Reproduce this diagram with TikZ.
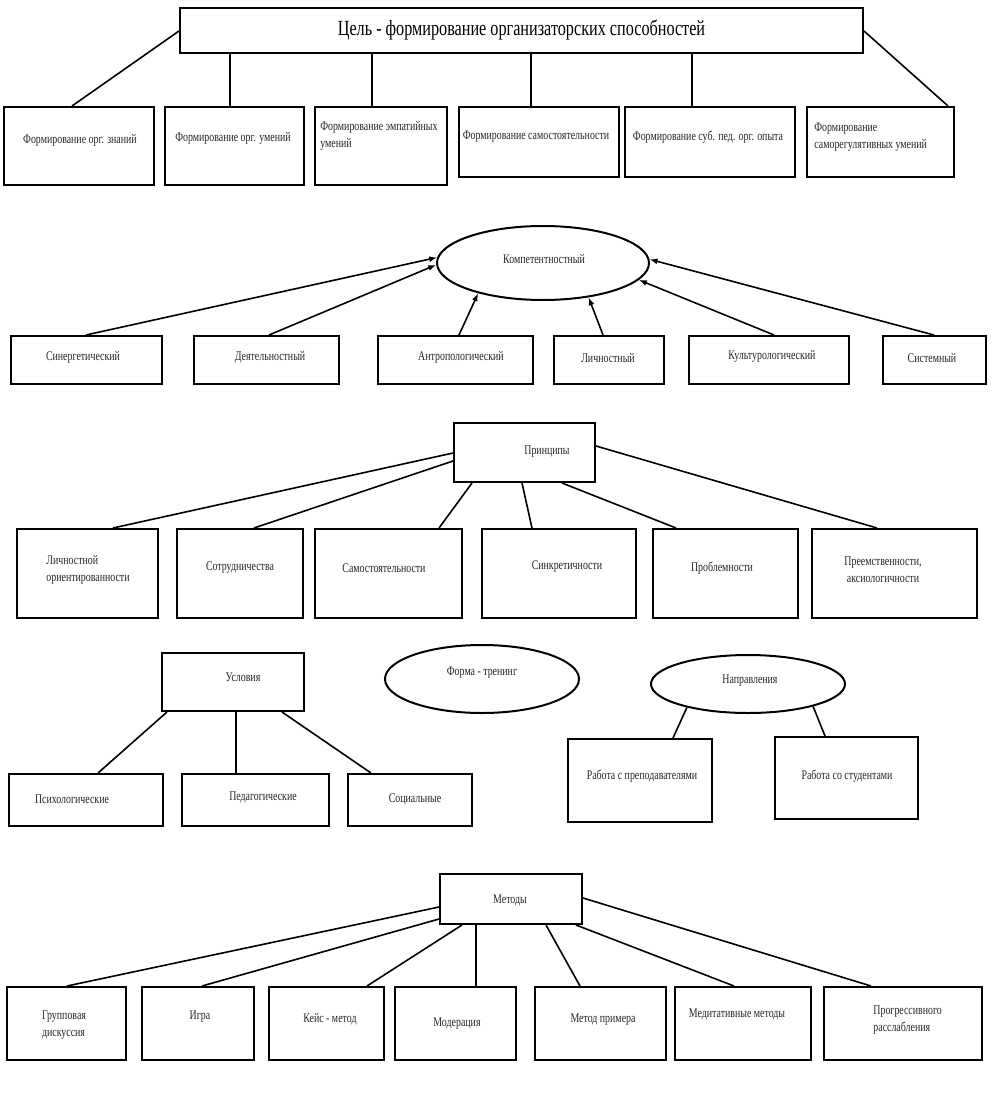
\documentclass[tikz,border=0pt]{standalone}
\usepackage{fontspec}
\setmainfont{Liberation Serif}
\newfontfamily\dfont[FakeStretch=0.75]{Liberation Serif}
\usetikzlibrary{calc,arrows.meta,shapes.geometric}
\newcommand\mkbox[5]{%
  \pgfmathsetmacro\mybw{(#4-#2)*0.5}%
  \pgfmathsetmacro\mybh{(#5-#3)*0.5}%
  \node[box, minimum width=\mybw pt, minimum height=\mybh pt] (#1) at ({(#2+#4)/2},{(#3+#5)/2}) {};}
\begin{document}
\begin{tikzpicture}[x=0.5pt,y=-0.5pt,
  box/.style={draw, line width=1pt, rectangle, inner sep=0pt},
  oval/.style={draw, line width=1pt, ellipse, inner sep=0pt},
  txt/.style={font=\dfont\fontsize{6.6}{8.5}\selectfont, text=black!85, inner sep=0pt, align=center},
  link/.style={line width=0.8pt},
  arr/.style={line width=0.8pt, -{Latex[length=4pt,width=3pt]}}]
\fill[white] (0,0) rectangle (1003,1097);
\useasboundingbox (0,0) rectangle (1003,1097);

% ---------- Section 1 ----------
\node[box, minimum width=341.5pt, minimum height=22.5pt,
      font=\dfont\fontsize{10.8}{13}\selectfont] (t) at (521.5,30.5)
      {Цель - формирование организаторских способностей};
\mkbox{b1}{4}{107}{154}{185}
\mkbox{b2}{165}{107}{304}{185}
\mkbox{b3}{315}{107}{447}{185}
\mkbox{b4}{459}{107}{619}{177}
\mkbox{b5}{625}{107}{795}{177}
\mkbox{b6}{807}{107}{954}{177}
\node[txt] (tb1) at (80,140) {Формирование орг. знаний};
\node[txt] (tb2) at (233,138) {Формирование орг. умений};
\node[txt, align=left, anchor=west] (tb3) at (320,136) {Формирование эмпатийных\\умений};
\node[txt] (tb4) at (536,137) {Формирование самостоятельности};
\node[txt] (tb5) at (708,137) {Формирование суб. пед. орг. опыта};
\node[txt, align=left, anchor=west] (tb6) at (814,137.5) {Формирование\\саморегулятивных умений};

\draw[link] ($(b1.north west)+(69,0)$) -- ($(t.north west)+(0,24)$);
\coordinate (p2) at ($(b2.north west)+(66,0)$);
\draw[link] (p2) -- (p2 |- t.south);
\coordinate (p3) at ($(b3.north west)+(58,0)$);
\draw[link] (p3) -- (p3 |- t.south);
\coordinate (p4) at ($(b4.north west)+(73,0)$);
\draw[link] (p4) -- (p4 |- t.south);
\coordinate (p5) at ($(b5.north west)+(68,0)$);
\draw[link] (p5) -- (p5 |- t.south);
\draw[link] ($(b6.north east)+(-7,0)$) -- ($(t.north east)+(0,24)$);

% ---------- Section 2 ----------
\node[oval, minimum width=106pt, minimum height=37pt] (e1) at (543,263) {};
\node[txt] (te1) at (544,259) {Компетентностный};
\mkbox{a1}{11}{336}{162}{384}
\mkbox{a2}{194}{336}{339}{384}
\mkbox{a3}{378}{336}{533}{384}
\mkbox{a4}{554}{336}{664}{384}
\mkbox{a5}{689}{336}{849}{384}
\mkbox{a6}{883}{336}{986}{384}
\node[txt] (ta1) at (83,357) {Синергетический};
\node[txt] (ta2) at (270,357) {Деятельностный};
\node[txt] (ta3) at (461,357) {Антропологический};
\node[txt] (ta4) at (608,358) {Личностный};
\node[txt] (ta5) at (772,356) {Культурологический};
\node[txt] (ta6) at (932,358) {Системный};
\draw[arr] ($(a1.north west)+(76,0)$) -- (e1.177);
\draw[arr] ($(a2.north west)+(76,0)$) -- (e1.181);
\draw[arr] ($(a3.north west)+(82,0)$) -- (e1.205);
\draw[arr] ($(a4.north west)+(50,0)$) -- (e1.323);
\draw[arr] ($(a5.north west)+(86,0)$) -- (e1.350);
\draw[arr] ($(a6.north west)+(52,0)$) -- (e1.2);

% ---------- Section 3 ----------
\mkbox{pr}{454}{423}{595}{482}
\node[txt] (tpr) at (547,452) {Принципы};
\mkbox{c1}{17}{529}{158}{618}
\mkbox{c2}{177}{529}{303}{618}
\mkbox{c3}{315}{529}{462}{618}
\mkbox{c4}{482}{529}{636}{618}
\mkbox{c5}{653}{529}{798}{618}
\mkbox{c6}{812}{529}{977}{618}
\node[txt, align=left] (tc1) at (88,570) {Личностной\\ориентированности};
\node[txt] (tc2) at (240,568) {Сотрудничества};
\node[txt] (tc3) at (384,568) {Самостоятельности};
\node[txt] (tc4) at (567,567) {Синкретичности};
\node[txt] (tc5) at (722,568) {Проблемности};
\node[txt] (tc6) at (883,570) {Преемственности,\\аксиологичности};
\draw[link] ($(c1.north west)+(97,0)$) -- ($(pr.north west)+(0,31)$);
\draw[link] ($(c2.north west)+(78,0)$) -- ($(pr.north west)+(0,39)$);
\draw[link] ($(c3.north west)+(125,0)$) -- ($(pr.south west)+(19,0)$);
\draw[link] ($(c4.north west)+(51,0)$) -- ($(pr.south west)+(69,0)$);
\draw[link] ($(c5.north west)+(24,0)$) -- ($(pr.south west)+(109,0)$);
\draw[link] ($(c6.north west)+(66,0)$) -- ($(pr.north east)+(0,24)$);

% ---------- Section 4 ----------
\mkbox{u}{162}{653}{304}{711}
\node[txt] (tu) at (243,677) {Условия};
\mkbox{d1}{9}{774}{163}{826}
\mkbox{d2}{182}{774}{329}{826}
\mkbox{d3}{348}{774}{472}{826}
\node[txt] (td1) at (72,799) {Психологические};
\node[txt] (td2) at (263,797) {Педагогические};
\node[txt] (td3) at (415,799) {Социальные};
\draw[link] ($(d1.north west)+(90,0)$) -- ($(u.south west)+(6,0)$);
\coordinate (q2) at ($(d2.north west)+(55,0)$);
\draw[link] (q2) -- (q2 |- u.south);
\draw[link] ($(d3.north west)+(24,0)$) -- ($(u.south west)+(121,0)$);

\node[oval, minimum width=97pt, minimum height=34pt] (f1) at (482,679) {};
\node[txt] (tf1) at (482,673) {Форма - тренинг};
\node[oval, minimum width=97pt, minimum height=29pt] (n1) at (748,684) {};
\node[txt] (tn1) at (750,681) {Направления};
\mkbox{w1}{568}{739}{712}{822}
\mkbox{w2}{775}{737}{918}{819}
\node[txt] (tw1) at (642,776) {Работа с преподавателями};
\node[txt] (tw2) at (847,776) {Работа со студентами};
\draw[link] ($(w1.north west)+(106,0)$) -- (n1.201);
\draw[link] ($(w2.north west)+(51,0)$) -- (n1.341);

% ---------- Section 5 ----------
\mkbox{m}{440}{874}{582}{924}
\node[txt] (tm) at (510,900) {Методы};
\mkbox{g1}{7}{987}{126}{1060}
\mkbox{g2}{142}{987}{254}{1060}
\mkbox{g3}{269}{987}{384}{1060}
\mkbox{g4}{395}{987}{516}{1060}
\mkbox{g5}{535}{987}{666}{1060}
\mkbox{g6}{675}{987}{811}{1060}
\mkbox{g7}{824}{987}{982}{1060}
\node[txt, align=left] (tg1) at (64,1025) {Групповая\\дискуссия};
\node[txt] (tg2) at (200,1017) {Игра};
\node[txt] (tg3) at (330,1019) {Кейс - метод};
\node[txt] (tg4) at (457,1024) {Модерация};
\node[txt] (tg5) at (603,1020) {Метод примера};
\node[txt] (tg6) at (737,1014) {Медитативные методы};
\node[txt, align=left, anchor=west] (tg7) at (873,1020) {Прогрессивного\\расслабления};
\draw[link] ($(g1.north west)+(61,0)$) -- ($(m.north west)+(0,34)$);
\draw[link] ($(g2.north west)+(61,0)$) -- ($(m.north west)+(0,46)$);
\draw[link] ($(g3.north west)+(99,0)$) -- ($(m.south west)+(23,0)$);
\coordinate (r4) at ($(g4.north west)+(82,0)$);
\draw[link] (r4) -- (r4 |- m.south);
\draw[link] ($(g5.north west)+(46,0)$) -- ($(m.south west)+(107,0)$);
\draw[link] ($(g6.north west)+(60,0)$) -- ($(m.south west)+(137,0)$);
\draw[link] ($(g7.north west)+(48,0)$) -- ($(m.north east)+(0,25)$);
\end{tikzpicture}
\end{document}
